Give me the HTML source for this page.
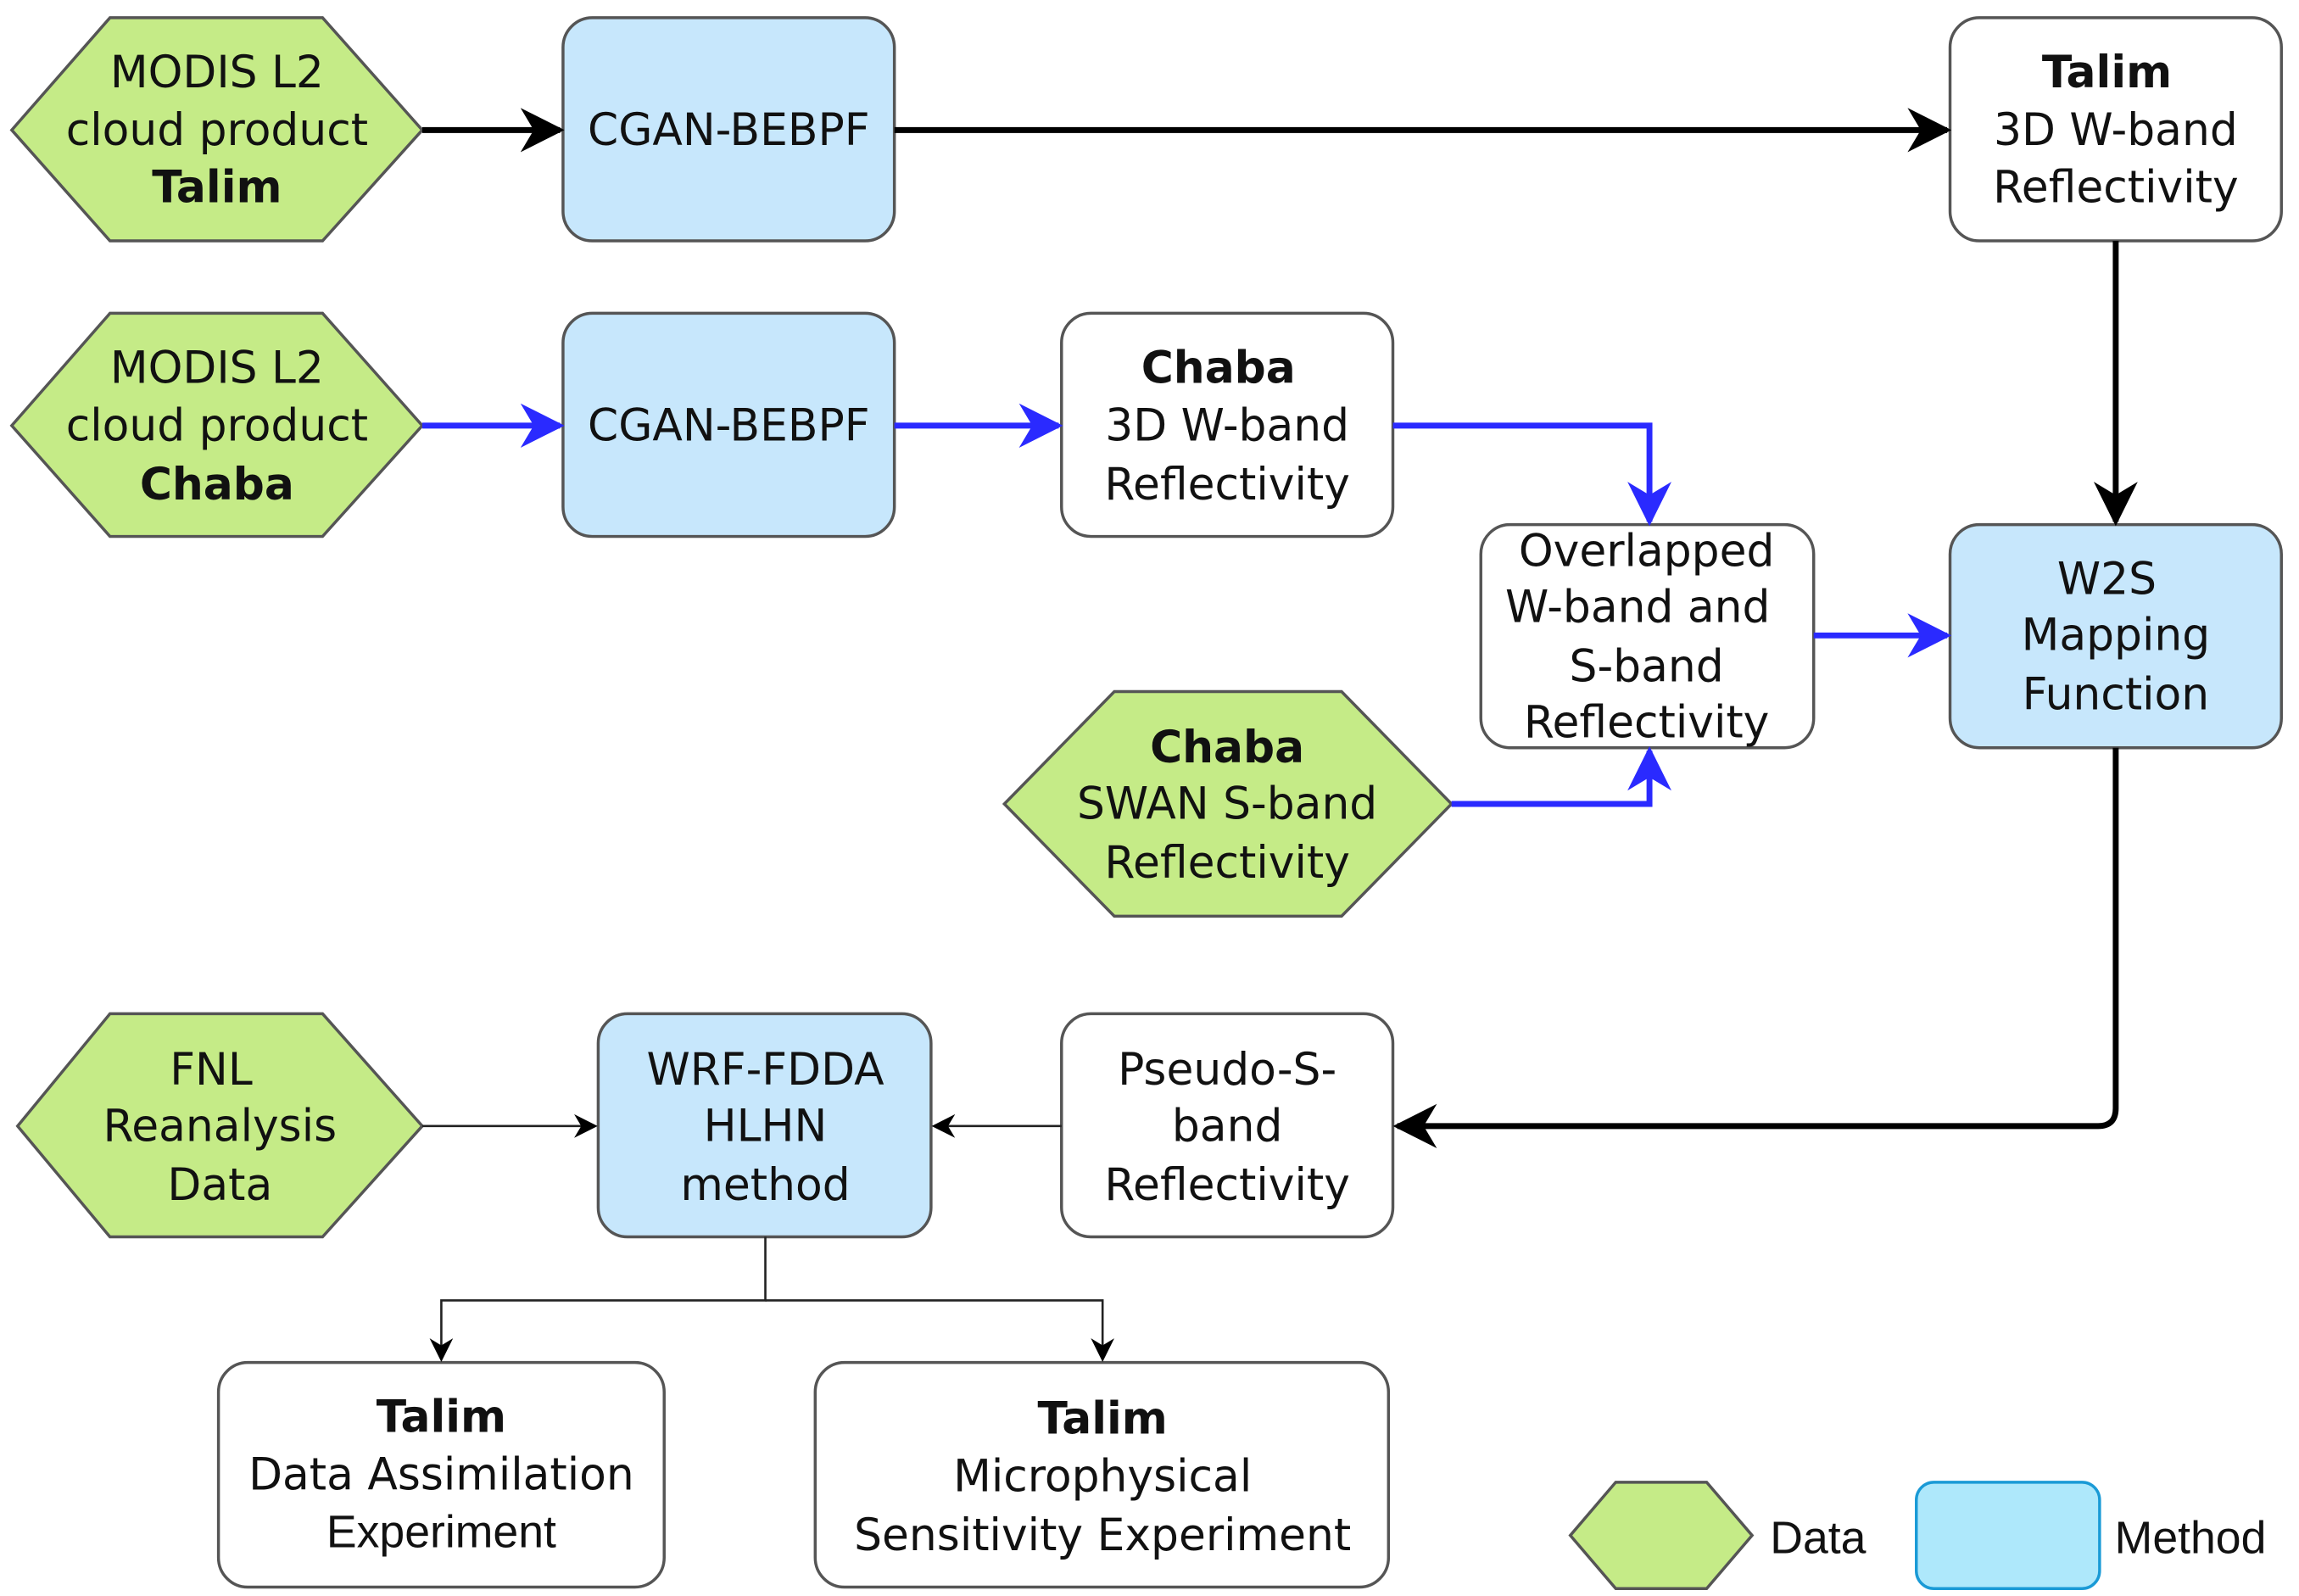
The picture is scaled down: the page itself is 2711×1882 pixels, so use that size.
<!DOCTYPE html>
<html><head><meta charset="utf-8"><style>
html,body{margin:0;padding:0;background:#fff;}
svg{display:block;}
text{font-family:"DejaVu Sans","Liberation Sans",sans-serif;font-size:30px;fill:#111;text-anchor:middle;}
.b{font-weight:bold;}
.a{font-family:"Liberation Sans",sans-serif;font-size:31px;}
</style></head><body>
<svg width="2711" height="1882" viewBox="0 0 1568 1080" preserveAspectRatio="none" xmlns="http://www.w3.org/2000/svg">
<defs>
<marker id="ak" viewBox="0 0 10 10" refX="9" refY="5" markerWidth="7" markerHeight="7" markerUnits="userSpaceOnUse" orient="auto"><path d="M0,0 L10,5 L0,10 L3,5 z" fill="#000"/></marker>
<marker id="akB" viewBox="0 0 10 10" refX="9" refY="5" markerWidth="30" markerHeight="30" markerUnits="userSpaceOnUse" orient="auto"><path d="M0,0 L10,5 L0,10 L3,5 z" fill="#000"/></marker>
<marker id="ab" viewBox="0 0 10 10" refX="9" refY="5" markerWidth="30" markerHeight="30" markerUnits="userSpaceOnUse" orient="auto"><path d="M0,0 L10,5 L0,10 L3,5 z" fill="#2a2aff"/></marker>
<marker id="as" viewBox="0 0 10 10" refX="9" refY="5" markerWidth="16" markerHeight="16" markerUnits="userSpaceOnUse" orient="auto"><path d="M0,0 L10,5 L0,10 L3,5 z" fill="#000"/></marker>
</defs>
<g stroke="#555" stroke-width="2">
<polygon points="8,88 75,12 220,12 288,88 220,163 75,163" fill="#c5eb87"/>
<polygon points="8,288 75,212 220,212 288,288 220,363 75,363" fill="#c5eb87"/>
<polygon points="685,544 760,468 915,468 990,544 915,620 760,620" fill="#c5eb87"/>
<polygon points="12,762 75,686 220,686 288,762 220,837 75,837" fill="#c5eb87"/>
<rect x="384" y="12" width="226" height="151" rx="20" fill="#c7e7fc"/>
<rect x="384" y="212" width="226" height="151" rx="20" fill="#c7e7fc"/>
<rect x="1330" y="12" width="226" height="151" rx="20" fill="#fff"/>
<rect x="724" y="212" width="226" height="151" rx="20" fill="#fff"/>
<rect x="1010" y="355" width="227" height="151" rx="20" fill="#fff"/>
<rect x="1330" y="355" width="226" height="151" rx="20" fill="#c7e7fc"/>
<rect x="724" y="686" width="226" height="151" rx="20" fill="#fff"/>
<rect x="408" y="686" width="227" height="151" rx="20" fill="#c7e7fc"/>
<rect x="149" y="922" width="304" height="152" rx="20" fill="#fff"/>
<rect x="556" y="922" width="391" height="152" rx="20" fill="#fff"/>
<polygon points="1071,1039 1102,1003 1164,1003 1195,1039 1164,1075 1102,1075" fill="#c5eb87"/>
<rect x="1307" y="1003" width="125" height="72" rx="12" fill="#aee8fb" stroke="#1a9ad6"/>
</g>
<g fill="none">
<line x1="288" y1="88" x2="382" y2="88" stroke="#000" stroke-width="4" marker-end="url(#akB)"/>
<line x1="610" y1="88" x2="1328" y2="88" stroke="#000" stroke-width="4" marker-end="url(#akB)"/>
<line x1="1443" y1="163" x2="1443" y2="353" stroke="#000" stroke-width="4" marker-end="url(#akB)"/>
<path d="M1443,506 V750 Q1443,762 1431,762 H953" stroke="#000" stroke-width="4" marker-end="url(#akB)"/>
<line x1="288" y1="288" x2="382" y2="288" stroke="#2a2aff" stroke-width="4" marker-end="url(#ab)"/>
<line x1="610" y1="288" x2="722" y2="288" stroke="#2a2aff" stroke-width="4" marker-end="url(#ab)"/>
<path d="M950,288 H1125 V353" stroke="#2a2aff" stroke-width="4" marker-end="url(#ab)"/>
<path d="M990,544 H1125 V508" stroke="#2a2aff" stroke-width="4" marker-end="url(#ab)"/>
<line x1="1237" y1="430" x2="1328" y2="430" stroke="#2a2aff" stroke-width="4" marker-end="url(#ab)"/>
<line x1="288" y1="762" x2="406" y2="762" stroke="#222" stroke-width="1.5" marker-end="url(#as)"/>
<line x1="724" y1="762" x2="637" y2="762" stroke="#222" stroke-width="1.5" marker-end="url(#as)"/>
<path d="M522,837 V880 H301 V920" stroke="#222" stroke-width="1.5" marker-end="url(#as)"/>
<path d="M522,880 H752 V920" stroke="#222" stroke-width="1.5" marker-end="url(#as)"/>
</g>
<text x="148" y="59">MODIS L2</text><text x="148" y="98">cloud product</text><text x="148" y="137" class="b">Talim</text>
<text x="148" y="259">MODIS L2</text><text x="148" y="298">cloud product</text><text x="148" y="338" class="b">Chaba</text>
<text x="497" y="98">CGAN-BEBPF</text>
<text x="497" y="298">CGAN-BEBPF</text>
<text x="1437" y="59" class="b">Talim</text><text x="1443" y="98">3D W-band</text><text x="1443" y="137">Reflectivity</text>
<text x="831" y="259" class="b">Chaba</text><text x="837" y="298">3D W-band</text><text x="837" y="338">Reflectivity</text>
<text x="1123" y="383">Overlapped</text><text x="1117" y="421">W-band and</text><text x="1123" y="461">S-band</text><text x="1123" y="499">Reflectivity</text>
<text x="1437" y="402">W2S</text><text x="1443" y="440">Mapping</text><text x="1443" y="480">Function</text>
<text x="837" y="516" class="b">Chaba</text><text x="837" y="554">SWAN S-band</text><text x="837" y="594">Reflectivity</text>
<text x="144" y="734">FNL</text><text x="150" y="772">Reanalysis</text><text x="150" y="812">Data</text>
<text x="522" y="734">WRF-FDDA</text><text x="522" y="772">HLHN</text><text x="522" y="812">method</text>
<text x="837" y="734">Pseudo-S-</text><text x="837" y="772">band</text><text x="837" y="812">Reflectivity</text>
<text x="301" y="969" class="b">Talim</text><text x="301" y="1008">Data Assimilation</text><text x="301" y="1047" class="a">Experiment</text>
<text x="752" y="970" class="b">Talim</text><text x="752" y="1009">Microphysical</text><text x="752" y="1049">Sensitivity Experiment</text>
<text x="1240" y="1051" class="a">Data</text><text x="1494" y="1051" class="a">Method</text>
</svg>
</body></html>
